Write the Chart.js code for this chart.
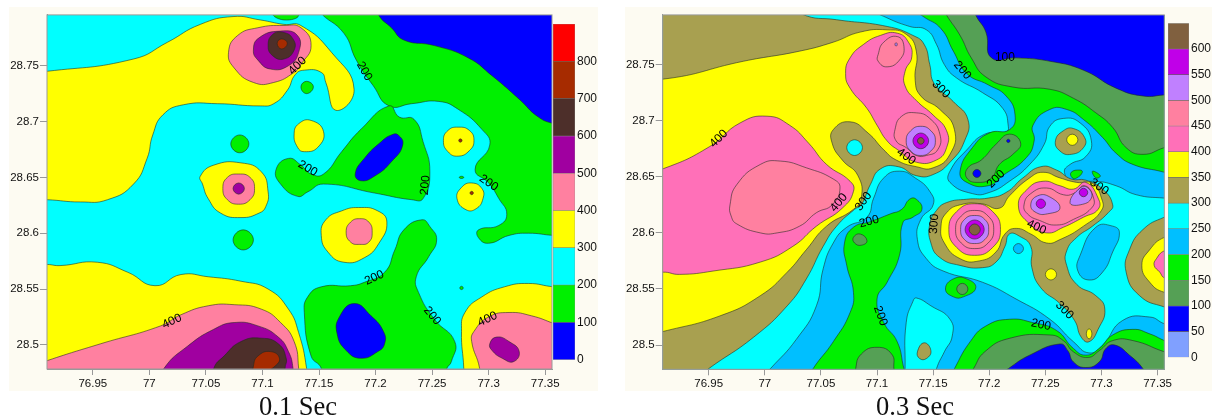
<!DOCTYPE html>
<html>
<head>
<meta charset="utf-8">
<script src="https://cdn.jsdelivr.net/npm/chart.js@4"></script>
<style>
  body { margin: 0; background: #fff; width: 1216px; height: 419px; overflow: hidden; position: relative; }
  .panel { position: absolute; top: 7px; height: 384px; background: #fdfbf2; }
  canvas { position: absolute; top: 7px; filter: blur(0.45px); }
  .cap { position: absolute; top: 391px; font: 26.5px/30px "Liberation Serif", serif; color: #111; }
</style>
</head>
<body>
<div class="panel" style="left:9px;width:589px"></div>
<div class="panel" style="left:625px;width:587px"></div>
<canvas id="map1" width="589" height="384" style="left:9px"></canvas>
<canvas id="bar1" width="45" height="384" style="left:553px"></canvas>
<canvas id="map2" width="587" height="384" style="left:625px"></canvas>
<canvas id="bar2" width="44" height="384" style="left:1168px"></canvas>
<div class="cap" style="left:259px">0.1 Sec</div>
<div class="cap" style="left:876px">0.3 Sec</div>
<script>
// axis ticks
const lonTicks = [76.95, 77, 77.05, 77.1, 77.15, 77.2, 77.25, 77.3, 77.35];
const latTicks = [28.5, 28.55, 28.6, 28.65, 28.7, 28.75];

// colour bars
const barLevels1 = [0, 100, 200, 300, 400, 500, 600, 700, 800, 900];
const barColors1 = ['#0000ff', '#00f000', '#00ffff', '#ffff00', '#ff80a0', '#a000a0', '#4d2f2a', '#a62b00', '#ff0000'];
const barLevels2 = [0, 50, 100, 150, 200, 250, 300, 350, 400, 450, 500, 550, 600, 650];
const barColors2 = ['#80a0ff', '#0000ff', '#55a055', '#00f000', '#00bfff', '#00ffff', '#a8a050', '#ffff00', '#ff70b8', '#ff80a0', '#c080ff', '#c000e8', '#80603f'];

// named shades used by the contour bands
const BLUE = '#0000ff', GREEN = '#00f000', CYAN = '#00ffff', YELLOW = '#ffff00', PINK = '#ff80a0',
  PURPLE = '#a000a0', BROWN = '#4d2f2a', RUST = '#a62b00', DARKG = '#55a055',
  SKY = '#00bfff', OLIVE = '#a8a050', HOT = '#ff70b8', VIOLET = '#c080ff', MAGENTA = '#c000e8', UMBER = '#80603f';

const wholeMap = [[76,28],[78,28],[78,29.5],[76,29.5]];

// ---- 0.1 Sec contour bands [lon, lat] ----
const a_yellowN = [[76.894,28.745],[76.9095,28.745],[76.986,28.756],[77.016,28.771],[77.045,28.787],[77.074,28.794],[77.098,28.791],[77.119,28.787],[77.134,28.786],[77.161,28.762],[77.181,28.729],[77.165,28.710],[77.156,28.735],[77.152,28.744],[77.137,28.746],[77.129,28.742],[77.122,28.728],[77.110,28.716],[77.098,28.714],[77.060,28.716],[77.030,28.715],[77.012,28.706],[77.003,28.688],[76.998,28.667],[76.986,28.644],[76.963,28.630],[76.939,28.628],[76.9095,28.630],[76.894,28.630]];
const a_pinkN = [[77.070,28.762],[77.078,28.777],[77.096,28.784],[77.119,28.786],[77.134,28.784],[77.143,28.768],[77.134,28.751],[77.128,28.744],[77.110,28.735],[77.092,28.735],[77.075,28.748]];
const a_purpleN = [[77.092,28.764],[77.097,28.775],[77.116,28.781],[77.131,28.777],[77.132,28.762],[77.123,28.750],[77.107,28.747],[77.096,28.755]];
const a_brownN = [[77.105,28.768],[77.109,28.778],[77.118,28.780],[77.127,28.774],[77.128,28.764],[77.119,28.756],[77.109,28.759]];
const a_rustN = [[77.113,28.770],[77.117,28.774],[77.122,28.770],[77.117,28.765]];
const a_greenTop = [[77.109,28.797],[77.119,28.791],[77.132,28.795],[77.121,28.802]];
const a_greenDot1 = [[77.134,28.731],[77.139,28.736],[77.145,28.731],[77.139,28.725]];
const a_greenDot2 = [[77.072,28.680],[77.080,28.688],[77.088,28.680],[77.080,28.672]];
const a_yellowMid = [[77.128,28.689],[77.132,28.698],[77.143,28.701],[77.154,28.691],[77.149,28.677],[77.137,28.673],[77.131,28.677]];
const a_greenNE = [[77.150,28.799],[77.172,28.779],[77.183,28.755],[77.198,28.732],[77.212,28.714],[77.232,28.716],[77.256,28.718],[77.273,28.711],[77.294,28.693],[77.301,28.679],[77.288,28.657],[77.300,28.645],[77.309,28.631],[77.316,28.617],[77.309,28.607],[77.291,28.603],[77.291,28.596],[77.300,28.591],[77.318,28.598],[77.335,28.600],[77.358,28.598],[77.374,28.598],[77.374,28.806],[77.150,28.806]];
// starts at the far corner: a list sorted by lon makes the library skip the points past the axis
const a_blueNE = [[77.374,28.806],[77.201,28.806],[77.203,28.795],[77.214,28.784],[77.225,28.773],[77.252,28.768],[77.282,28.757],[77.303,28.741],[77.327,28.720],[77.344,28.704],[77.358,28.698],[77.374,28.695]];
const a_greenMid = [[77.212,28.714],[77.187,28.693],[77.170,28.673],[77.154,28.653],[77.143,28.653],[77.134,28.661],[77.123,28.667],[77.112,28.657],[77.116,28.644],[77.131,28.633],[77.140,28.637],[77.154,28.644],[77.199,28.636],[77.232,28.630],[77.242,28.631],[77.248,28.655],[77.242,28.682],[77.234,28.702],[77.221,28.704]];
const a_blueMid = [[77.220,28.688],[77.224,28.679],[77.214,28.664],[77.199,28.651],[77.187,28.647],[77.182,28.653],[77.190,28.667],[77.205,28.682],[77.214,28.688]];
const a_yellowE1 = [[77.260,28.683],[77.264,28.692],[77.273,28.695],[77.283,28.692],[77.287,28.683],[77.283,28.674],[77.273,28.669],[77.264,28.673]];
const a_rustDot1 = [[77.2735,28.683],[77.275,28.6845],[77.2765,28.683],[77.275,28.6815]];
const a_yellowE2 = [[77.272,28.631],[77.276,28.641],[77.285,28.645],[77.294,28.640],[77.295,28.631],[77.289,28.622],[77.280,28.621]];
const a_rustDot2 = [[77.2835,28.636],[77.285,28.6375],[77.2865,28.636],[77.285,28.6345]];
const a_greenDot3 = [[77.274,28.650],[77.276,28.651],[77.278,28.650],[77.276,28.649]];
const a_yellowW = [[77.045,28.651],[77.057,28.661],[77.081,28.663],[77.099,28.655],[77.105,28.637],[77.103,28.624],[77.097,28.618],[77.081,28.614],[77.063,28.618],[77.052,28.631],[77.047,28.644]];
const a_pinkW = [[77.065,28.640],[77.069,28.650],[77.079,28.653],[77.089,28.650],[77.093,28.640],[77.089,28.630],[77.079,28.626],[77.069,28.630]];
const a_purpleW = [[77.074,28.640],[77.079,28.645],[77.084,28.640],[77.079,28.635]];
const a_greenDot4 = [[77.074,28.594],[77.083,28.603],[77.092,28.594],[77.083,28.585]];
const a_yellowS = [[76.895,28.572],[76.910,28.572],[76.921,28.571],[76.954,28.574],[76.981,28.565],[77.005,28.553],[77.028,28.563],[77.052,28.561],[77.081,28.557],[77.105,28.550],[77.123,28.532],[77.132,28.511],[77.139,28.479],[77.139,28.465],[76.895,28.465]];
const a_pinkS = [[76.910,28.486],[76.957,28.501],[77.010,28.517],[77.028,28.527],[77.052,28.535],[77.075,28.536],[77.099,28.532],[77.116,28.520],[77.128,28.503],[77.132,28.479],[77.132,28.465],[76.895,28.465],[76.895,28.480]];
const a_purpleS = [[77.010,28.465],[77.013,28.479],[77.034,28.499],[77.057,28.514],[77.075,28.520],[77.096,28.517],[77.114,28.507],[77.123,28.494],[77.127,28.479],[77.127,28.465]];
const a_brownS = [[77.057,28.465],[77.057,28.479],[77.066,28.490],[77.081,28.503],[77.099,28.506],[77.114,28.501],[77.121,28.488],[77.120,28.479],[77.120,28.465]];
const a_rustS = [[77.092,28.481],[77.096,28.490],[77.107,28.494],[77.115,28.488],[77.110,28.480],[77.101,28.476],[77.093,28.475]];
const a_yellowC = [[77.152,28.598],[77.156,28.612],[77.170,28.620],[77.185,28.623],[77.202,28.620],[77.210,28.610],[77.203,28.591],[77.190,28.578],[77.172,28.574],[77.158,28.583]];
const a_pinkC = [[77.174,28.601],[77.178,28.610],[77.186,28.613],[77.194,28.610],[77.197,28.601],[77.194,28.592],[77.186,28.590],[77.178,28.592]];
const a_greenS = [[77.137,28.529],[77.140,28.543],[77.152,28.552],[77.178,28.553],[77.190,28.556],[77.208,28.565],[77.217,28.585],[77.225,28.603],[77.241,28.612],[77.248,28.606],[77.254,28.594],[77.247,28.579],[77.236,28.561],[77.238,28.547],[77.252,28.523],[77.270,28.503],[77.267,28.485],[77.263,28.479],[77.258,28.465],[77.152,28.465],[77.152,28.479],[77.143,28.490]];
const a_blueS = [[77.181,28.537],[77.196,28.526],[77.207,28.512],[77.208,28.501],[77.202,28.494],[77.187,28.488],[77.174,28.495],[77.166,28.510],[77.168,28.525]];
const a_greenDot5 = [[77.2745,28.551],[77.276,28.5525],[77.2775,28.551],[77.276,28.5495]];
const a_yellowSE = [[77.278,28.465],[77.278,28.479],[77.276,28.512],[77.279,28.529],[77.294,28.543],[77.314,28.552],[77.335,28.555],[77.358,28.552],[77.374,28.552],[77.374,28.465]];
const a_pinkSE = [[77.374,28.465],[77.292,28.465],[77.292,28.479],[77.285,28.503],[77.287,28.512],[77.300,28.525],[77.318,28.529],[77.338,28.526],[77.358,28.519],[77.374,28.513]];
const a_purpleSE = [[77.301,28.501],[77.307,28.507],[77.318,28.503],[77.327,28.494],[77.322,28.485],[77.312,28.488],[77.303,28.495]];

const bands1 = [
  [wholeMap, CYAN], [a_yellowN, YELLOW], [a_pinkN, PINK], [a_purpleN, PURPLE], [a_brownN, BROWN], [a_rustN, RUST],
  [a_greenTop, GREEN], [a_greenDot1, GREEN], [a_greenDot2, GREEN], [a_yellowMid, YELLOW], [a_greenNE, GREEN], [a_blueNE, BLUE],
  [a_greenMid, GREEN], [a_blueMid, BLUE], [a_yellowE1, YELLOW], [a_rustDot1, RUST], [a_yellowE2, YELLOW], [a_rustDot2, RUST],
  [a_greenDot3, GREEN], [a_yellowW, YELLOW], [a_pinkW, PINK], [a_purpleW, PURPLE], [a_greenDot4, GREEN],
  [a_yellowS, YELLOW], [a_pinkS, PINK], [a_purpleS, PURPLE], [a_brownS, BROWN], [a_rustS, RUST],
  [a_yellowC, YELLOW], [a_pinkC, PINK], [a_greenS, GREEN], [a_blueS, BLUE], [a_greenDot5, GREEN],
  [a_yellowSE, YELLOW], [a_pinkSE, PINK], [a_purpleSE, PURPLE]
];

const labelText1 = ['400', '200', '200', '200', '200', '400', '200', '200', '400'];
const labelLon1 = [77.131, 77.190, 77.140, 77.244, 77.300, 77.020, 77.199, 77.250, 77.299];
const labelLat1 = [28.750, 28.745, 28.658, 28.643, 28.645, 28.521, 28.560, 28.526, 28.523];
const labelAngle1 = [-45, 60, 30, -85, 35, -25, -25, 50, -25];

// ---- 0.3 Sec contour bands [lon, lat] ----
const b_oliveNW = [[76.89,28.81],[77.015,28.81],[77.033,28.795],[77.064,28.790],[77.109,28.784],[77.132,28.776],[77.142,28.768],[77.147,28.750],[77.151,28.733],[77.168,28.717],[77.181,28.701],[77.178,28.682],[77.166,28.664],[77.150,28.652],[77.135,28.651],[77.119,28.659],[77.103,28.657],[77.094,28.643],[77.086,28.625],[77.080,28.621],[77.064,28.606],[77.052,28.588],[77.037,28.559],[77.020,28.535],[76.990,28.507],[76.950,28.479],[76.939,28.470],[76.89,28.47]];
const b_yellowNW = [[76.89,28.742],[76.909,28.737],[76.981,28.753],[77.031,28.762],[77.061,28.770],[77.085,28.779],[77.109,28.781],[77.126,28.777],[77.135,28.762],[77.134,28.736],[77.139,28.722],[77.156,28.710],[77.169,28.692],[77.165,28.670],[77.150,28.658],[77.135,28.659],[77.117,28.665],[77.106,28.674],[77.092,28.689],[77.076,28.699],[77.061,28.692],[77.060,28.680],[77.069,28.665],[77.083,28.651],[77.086,28.631],[77.079,28.621],[77.055,28.606],[77.037,28.585],[77.020,28.565],[76.996,28.544],[76.960,28.526],[76.909,28.512],[76.89,28.508]];
const b_hotW = [[76.89,28.654],[76.909,28.657],[76.951,28.677],[76.978,28.698],[77.002,28.704],[77.022,28.696],[77.039,28.680],[77.055,28.661],[77.076,28.646],[77.079,28.637],[77.069,28.622],[77.046,28.606],[77.025,28.588],[76.996,28.574],[76.954,28.566],[76.924,28.563],[76.909,28.565],[76.89,28.562]];
const b_roseW = [[76.969,28.625],[76.975,28.643],[76.996,28.661],[77.014,28.664],[77.037,28.658],[77.061,28.648],[77.067,28.640],[77.060,28.625],[77.046,28.618],[77.031,28.606],[77.011,28.600],[76.996,28.600],[76.975,28.608],[76.970,28.615]];
const b_hotN = [[77.072,28.742],[77.076,28.756],[77.088,28.768],[77.103,28.776],[77.118,28.778],[77.128,28.770],[77.131,28.757],[77.125,28.744],[77.125,28.731],[77.135,28.718],[77.150,28.705],[77.162,28.691],[77.162,28.676],[77.153,28.665],[77.135,28.663],[77.120,28.673],[77.109,28.682],[77.100,28.696],[77.091,28.711],[77.076,28.729]];
const b_roseN = [[77.101,28.759],[77.106,28.770],[77.118,28.775],[77.124,28.766],[77.120,28.754],[77.109,28.748],[77.101,28.753]];
const b_violetDot = [[77.116,28.768],[77.117,28.7695],[77.118,28.768],[77.117,28.7665]];
const b_roseHill1 = [[77.116,28.692],[77.122,28.704],[77.135,28.707],[77.147,28.702],[77.156,28.688],[77.154,28.674],[77.144,28.669],[77.135,28.669],[77.126,28.676],[77.117,28.682]];
const b_violetHill1 = [[77.126,28.682],[77.130,28.691],[77.139,28.695],[77.148,28.691],[77.152,28.682],[77.148,28.673],[77.139,28.669],[77.130,28.673]];
const b_magentaHill1 = [[77.132,28.682],[77.139,28.689],[77.146,28.682],[77.139,28.675]];
const b_umberHill1 = [[77.136,28.682],[77.139,28.685],[77.142,28.682],[77.139,28.679]];
const b_cyanHole = [[77.073,28.676],[77.080,28.683],[77.087,28.676],[77.080,28.669]];
const b_skyNE = [[77.094,28.80],[77.106,28.793],[77.129,28.784],[77.144,28.781],[77.153,28.768],[77.160,28.750],[77.171,28.738],[77.194,28.725],[77.212,28.711],[77.217,28.695],[77.215,28.690],[77.196,28.688],[77.180,28.674],[77.165,28.655],[77.165,28.645],[77.185,28.635],[77.200,28.636],[77.218,28.646],[77.236,28.661],[77.249,28.679],[77.254,28.695],[77.266,28.702],[77.281,28.698],[77.291,28.682],[77.286,28.668],[77.272,28.661],[77.267,28.654],[77.275,28.645],[77.295,28.646],[77.313,28.642],[77.331,28.634],[77.356,28.631],[77.364,28.631],[77.37,28.81]];
const b_greenNE = [[77.132,28.80],[77.141,28.793],[77.157,28.782],[77.168,28.762],[77.180,28.742],[77.199,28.732],[77.215,28.722],[77.223,28.705],[77.218,28.692],[77.200,28.689],[77.185,28.676],[77.174,28.655],[77.180,28.645],[77.199,28.642],[77.212,28.651],[77.233,28.667],[77.240,28.682],[77.239,28.696],[77.254,28.710],[77.269,28.710],[77.284,28.701],[77.301,28.685],[77.313,28.671],[77.328,28.661],[77.356,28.654],[77.367,28.650],[77.37,28.81],[77.132,28.81]];
const b_darkNE = [[77.159,28.80],[77.162,28.794],[77.174,28.776],[77.184,28.756],[77.197,28.739],[77.221,28.730],[77.254,28.728],[77.275,28.720],[77.295,28.707],[77.310,28.694],[77.322,28.676],[77.337,28.670],[77.356,28.676],[77.367,28.679],[77.37,28.81],[77.159,28.81]];
const b_blueNE = [[77.187,28.80],[77.188,28.794],[77.197,28.779],[77.202,28.756],[77.224,28.756],[77.254,28.753],[77.284,28.745],[77.313,28.729],[77.337,28.722],[77.356,28.723],[77.367,28.724],[77.37,28.81],[77.187,28.81]];
const b_peanut = [[77.218,28.688],[77.228,28.680],[77.221,28.670],[77.209,28.661],[77.202,28.649],[77.190,28.645],[77.180,28.649],[77.181,28.658],[77.193,28.665],[77.206,28.679]];
const b_blueDot1 = [[77.1854,28.653],[77.189,28.6566],[77.1926,28.653],[77.189,28.6494]];
const b_blueDot2 = [[77.2155,28.682],[77.217,28.6835],[77.2185,28.682],[77.217,28.6805]];
const b_oliveBlob = [[77.259,28.682],[77.266,28.691],[77.275,28.693],[77.285,28.685],[77.284,28.676],[77.273,28.670],[77.263,28.673]];
const b_yellowBlob = [[77.269,28.683],[77.274,28.688],[77.279,28.683],[77.274,28.678]];
const b_greenSmall1 = [[77.273,28.654],[77.281,28.656],[77.283,28.654],[77.278,28.649],[77.274,28.649]];
const b_greenSmall2 = [[77.292,28.655],[77.299,28.651],[77.295,28.649]];
const b_skyS = [[76.999,28.473],[77.005,28.479],[77.028,28.505],[77.046,28.535],[77.052,28.568],[77.061,28.591],[77.073,28.605],[77.091,28.614],[77.097,28.631],[77.106,28.649],[77.120,28.655],[77.134,28.649],[77.147,28.637],[77.150,28.625],[77.139,28.612],[77.136,28.594],[77.144,28.577],[77.159,28.566],[77.194,28.556],[77.224,28.541],[77.254,28.523],[77.275,28.503],[77.289,28.493],[77.301,28.500],[77.319,28.522],[77.343,28.525],[77.356,28.519],[77.365,28.517],[77.37,28.46],[76.999,28.46]];
const b_greenS = [[77.039,28.470],[77.043,28.479],[77.061,28.503],[77.076,28.529],[77.079,28.547],[77.073,28.571],[77.071,28.591],[77.079,28.605],[77.094,28.610],[77.112,28.617],[77.122,28.621],[77.129,28.630],[77.135,28.630],[77.140,28.621],[77.132,28.614],[77.123,28.609],[77.120,28.580],[77.109,28.556],[77.100,28.541],[77.106,28.520],[77.118,28.503],[77.124,28.479],[77.128,28.465]];
const b_darkSmall = [[77.079,28.596],[77.085,28.599],[77.091,28.593],[77.086,28.589],[77.080,28.591]];
const b_darkBottom = [[77.081,28.479],[77.086,28.492],[77.100,28.498],[77.113,28.492],[77.115,28.479],[77.115,28.465],[77.081,28.465]];
const b_cyanLobe = [[77.125,28.479],[77.126,28.520],[77.132,28.539],[77.135,28.542],[77.148,28.535],[77.165,28.523],[77.167,28.508],[77.160,28.494],[77.153,28.479],[77.150,28.465],[77.125,28.465]];
const b_oliveSmall = [[77.136,28.494],[77.142,28.502],[77.148,28.495],[77.144,28.488],[77.138,28.488]];
const b_greenBlob = [[77.161,28.550],[77.168,28.559],[77.180,28.559],[77.188,28.551],[77.177,28.543],[77.168,28.543]];
const b_darkBlob = [[77.171,28.550],[77.176,28.555],[77.181,28.550],[77.176,28.545]];
const b_greenSE = [[77.165,28.470],[77.169,28.479],[77.183,28.503],[77.197,28.517],[77.218,28.523],[77.239,28.520],[77.260,28.513],[77.275,28.497],[77.286,28.491],[77.298,28.497],[77.310,28.509],[77.328,28.514],[77.343,28.510],[77.356,28.504],[77.37,28.498],[77.37,28.46],[77.165,28.46]];
const b_darkSE = [[77.183,28.473],[77.186,28.479],[77.196,28.494],[77.218,28.506],[77.254,28.509],[77.266,28.504],[77.275,28.494],[77.288,28.489],[77.298,28.495],[77.310,28.504],[77.328,28.504],[77.356,28.494],[77.37,28.49],[77.37,28.46],[77.183,28.46]];
const b_blueSE = [[77.211,28.474],[77.217,28.479],[77.236,28.491],[77.263,28.501],[77.270,28.495],[77.275,28.485],[77.286,28.480],[77.298,28.485],[77.304,28.497],[77.312,28.500],[77.325,28.491],[77.337,28.479],[77.345,28.465],[77.211,28.465]];
const b_oliveC = [[77.246,28.659],[77.260,28.656],[77.273,28.648],[77.286,28.647],[77.301,28.639],[77.310,28.625],[77.306,28.618],[77.292,28.606],[77.278,28.596],[77.269,28.584],[77.269,28.571],[77.278,28.554],[77.295,28.544],[77.303,28.532],[77.297,28.514],[77.289,28.503],[77.282,28.507],[77.276,28.522],[77.263,28.537],[77.246,28.551],[77.238,28.569],[77.237,28.588],[77.227,28.597],[77.218,28.599],[77.214,28.588],[77.206,28.574],[77.194,28.569],[77.174,28.571],[77.156,28.578],[77.148,28.591],[77.147,28.608],[77.153,28.620],[77.162,28.627],[77.180,28.630],[77.199,28.631],[77.215,28.636],[77.230,28.649]];
const b_yellowC = [[77.174,28.625],[77.193,28.626],[77.209,28.622],[77.218,28.633],[77.236,28.649],[77.248,28.654],[77.263,28.649],[77.278,28.645],[77.292,28.644],[77.300,28.631],[77.300,28.620],[77.284,28.606],[77.263,28.594],[77.251,28.591],[77.237,28.599],[77.224,28.604],[77.214,28.599],[77.206,28.583],[77.191,28.575],[77.174,28.577],[77.160,28.591],[77.157,28.606],[77.162,28.618]];
const b_hotHill = [[77.164,28.603],[77.171,28.619],[77.187,28.626],[77.203,28.619],[77.210,28.603],[77.203,28.587],[77.187,28.580],[77.171,28.587]];
const b_roseHill = [[77.170,28.603],[77.175,28.615],[77.187,28.620],[77.199,28.615],[77.204,28.603],[77.199,28.591],[77.187,28.586],[77.175,28.591]];
const b_violetHill = [[77.1745,28.603],[77.178,28.612],[77.187,28.6155],[77.196,28.612],[77.1995,28.603],[77.196,28.594],[77.187,28.5905],[77.178,28.594]];
const b_magentaHill = [[77.1785,28.603],[77.187,28.6115],[77.1955,28.603],[77.187,28.5945]];
const b_umberHill = [[77.182,28.603],[77.187,28.608],[77.192,28.603],[77.187,28.598]];
const b_hotE = [[77.226,28.624],[77.234,28.639],[77.248,28.646],[77.263,28.642],[77.275,28.639],[77.286,28.645],[77.297,28.631],[77.297,28.621],[77.284,28.614],[77.266,28.605],[77.251,28.600],[77.236,28.608]];
const b_roseE = [[77.231,28.625],[77.237,28.635],[77.251,28.640],[77.266,28.634],[77.275,28.635],[77.285,28.642],[77.293,28.631],[77.291,28.622],[77.275,28.612],[77.260,28.607],[77.245,28.611],[77.234,28.617]];
const b_violetE1 = [[77.237,28.625],[77.243,28.633],[77.254,28.632],[77.263,28.622],[77.252,28.617],[77.242,28.618]];
const b_magentaE1 = [[77.2418,28.626],[77.246,28.6302],[77.2502,28.626],[77.246,28.6218]];
const b_violetE2 = [[77.272,28.627],[77.281,28.640],[77.288,28.640],[77.291,28.631],[77.281,28.625]];
const b_magentaE2 = [[77.2802,28.636],[77.284,28.6398],[77.2878,28.636],[77.284,28.6322]];
const b_skyBlob = [[77.295,28.605],[77.310,28.606],[77.316,28.600],[77.310,28.583],[77.301,28.565],[77.289,28.558],[77.279,28.566],[77.281,28.580]];
const b_skySmall = [[77.2215,28.586],[77.226,28.5905],[77.2305,28.586],[77.226,28.5815]];
const b_yellowSmall1 = [[77.250,28.563],[77.255,28.568],[77.260,28.563],[77.255,28.558]];
const b_yellowSmall2 = [[77.2865,28.510],[77.289,28.5145],[77.2915,28.510],[77.289,28.5055]];
const b_oliveEdge = [[77.356,28.614],[77.337,28.603],[77.325,28.585],[77.322,28.565],[77.334,28.544],[77.356,28.534],[77.375,28.530],[77.375,28.620]];
const b_yellowEdge = [[77.356,28.596],[77.343,28.585],[77.336,28.571],[77.343,28.556],[77.356,28.547],[77.375,28.545],[77.375,28.600]];
const b_hotEdge = [[77.356,28.584],[77.349,28.577],[77.347,28.571],[77.352,28.565],[77.356,28.560],[77.375,28.555],[77.375,28.590]];

const bands2 = [
  [wholeMap, CYAN], [b_oliveNW, OLIVE], [b_yellowNW, YELLOW], [b_hotW, HOT], [b_roseW, PINK], [b_hotN, HOT], [b_roseN, PINK], [b_violetDot, VIOLET],
  [b_roseHill1, PINK], [b_violetHill1, VIOLET], [b_magentaHill1, MAGENTA], [b_umberHill1, UMBER], [b_cyanHole, CYAN],
  [b_skyNE, SKY], [b_greenNE, GREEN], [b_darkNE, DARKG], [b_blueNE, BLUE], [b_peanut, DARKG], [b_blueDot1, BLUE], [b_blueDot2, BLUE],
  [b_oliveBlob, OLIVE], [b_yellowBlob, YELLOW], [b_greenSmall1, GREEN], [b_greenSmall2, GREEN],
  [b_skyS, SKY], [b_greenS, GREEN], [b_darkSmall, DARKG], [b_darkBottom, DARKG], [b_cyanLobe, CYAN], [b_oliveSmall, OLIVE],
  [b_greenBlob, GREEN], [b_darkBlob, DARKG], [b_greenSE, GREEN], [b_darkSE, DARKG], [b_blueSE, BLUE],
  [b_oliveC, OLIVE], [b_yellowC, YELLOW], [b_hotHill, HOT], [b_roseHill, PINK], [b_violetHill, VIOLET], [b_magentaHill, MAGENTA], [b_umberHill, UMBER],
  [b_hotE, HOT], [b_roseE, PINK], [b_violetE1, VIOLET], [b_magentaE1, MAGENTA], [b_violetE2, VIOLET], [b_magentaE2, MAGENTA],
  [b_skyBlob, SKY], [b_skySmall, SKY], [b_yellowSmall1, YELLOW], [b_yellowSmall2, YELLOW],
  [b_oliveEdge, OLIVE], [b_yellowEdge, YELLOW], [b_hotEdge, HOT]
];

const labelText2 = ['400', '400', '400', '300', '200', '100', '300', '200', '300', '200', '200', '300', '400', '300', '200'];
const labelLon2 = [76.959, 77.126, 77.066, 77.088, 77.176, 77.214, 77.157, 77.206, 77.298, 77.093, 77.103, 77.151, 77.242, 77.267, 77.246];
const labelLat2 = [28.684, 28.668, 28.627, 28.628, 28.745, 28.756, 28.728, 28.648, 28.641, 28.610, 28.526, 28.608, 28.605, 28.531, 28.518];
const labelAngle2 = [-45, 35, -50, -55, 50, 0, 45, -45, 35, -15, 70, -85, 25, 45, 12];

// every band is a closed curve, so the spline has to wrap round the first point
const closeBands = {
  id: 'closeBands',
  afterDatasetsUpdate(chart) {
    chart.getSortedVisibleDatasetMetas().forEach(m => {
      m.dataset._loop = true;
      m.dataset._fullLoop = true;
      m.dataset._pointsUpdated = false;
      m.dataset._segments = undefined;
    });
  }
};

// draws the rotated contour labels and the frame
const contourLabels = {
  id: 'contourLabels',
  afterDatasetsDraw(chart, args, opts) {
    const { ctx, chartArea: a, scales } = chart;
    ctx.save();
    ctx.strokeStyle = '#999';
    ctx.lineWidth = 1;
    ctx.strokeRect(a.left, a.top, a.right - a.left, a.bottom - a.top);
    ctx.font = '12px "Liberation Sans", Arial, sans-serif';
    ctx.fillStyle = '#000';
    ctx.textAlign = 'center';
    ctx.textBaseline = 'middle';
    opts.text.forEach((t, i) => {
      ctx.save();
      ctx.translate(scales.x.getPixelForValue(opts.lon[i]), scales.y.getPixelForValue(opts.lat[i]));
      ctx.rotate(opts.angle[i] * Math.PI / 180);
      ctx.fillText(t, 0, 0);
      ctx.restore();
    });
    ctx.restore();
  }
};

function drawMap(id, bands, range, fit, labels) {
  const n = bands.length;
  new Chart(document.getElementById(id), {
    type: 'scatter',
    plugins: [closeBands, contourLabels],
    data: {
      datasets: bands.map((b, i) => ({
        data: b[0].map(p => ({ x: p[0], y: p[1] })),
        showLine: true,
        fill: 'shape',
        backgroundColor: b[1],
        borderColor: 'rgba(30,40,30,.7)',
        borderWidth: 0.8,
        tension: 0.5,
        pointRadius: 0,
        order: n - i
      }))
    },
    options: {
      responsive: false,
      animation: false,
      events: [],
      layout: { padding: fit.padding },
      elements: { line: { capBezierPoints: false } },
      plugins: { legend: { display: false }, tooltip: { enabled: false }, contourLabels: labels },
      scales: {
        x: {
          type: 'linear', min: range[0], max: range[1],
          afterBuildTicks: s => { s.ticks = lonTicks.map(v => ({ value: v })); },
          afterFit: s => { s.height = fit.bottom; },
          grid: { drawOnChartArea: false, tickLength: 6, tickColor: '#999' },
          border: { color: '#999' },
          ticks: { color: '#111', font: { family: 'Liberation Sans', size: 11.5 }, padding: 2, maxRotation: 0, autoSkip: false, callback: v => String(v) }
        },
        y: {
          type: 'linear', min: range[2], max: range[3],
          afterBuildTicks: s => { s.ticks = latTicks.map(v => ({ value: v })); },
          afterFit: s => { s.width = fit.left; },
          grid: { drawOnChartArea: false, tickLength: 7, tickColor: '#999' },
          border: { color: '#999' },
          ticks: { color: '#111', font: { family: 'Liberation Sans', size: 11.5 }, padding: 1, autoSkip: false, callback: v => String(v) }
        }
      }
    }
  });
}

function drawBar(id, levels, colors, padding) {
  new Chart(document.getElementById(id), {
    type: 'bar',
    data: {
      labels: [''],
      datasets: colors.map((c, i) => ({
        data: [[levels[i], levels[i + 1]]],
        backgroundColor: c,
        borderColor: 'rgba(60,60,60,.6)',
        borderWidth: 0.6,
        borderSkipped: false,
        grouped: false,
        barPercentage: 1,
        categoryPercentage: 1
      }))
    },
    options: {
      responsive: false,
      animation: false,
      events: [],
      layout: { padding: padding },
      plugins: { legend: { display: false }, tooltip: { enabled: false } },
      scales: {
        x: { display: false },
        y: {
          position: 'right', min: levels[0], max: levels[levels.length - 1],
          afterBuildTicks: s => { s.ticks = levels.slice(0, -1).map(v => ({ value: v })); },
          afterFit: s => { s.width = 23; },
          grid: { display: false, drawTicks: false },
          border: { display: false },
          ticks: { color: '#111', font: { family: 'Liberation Sans', size: 12 }, padding: 2, autoSkip: false, callback: v => String(v) }
        }
      }
    }
  });
}

drawMap('map1', bands1, [76.9095, 77.356, 28.4784, 28.7955],
  { left: 38, bottom: 22, padding: { top: 5, right: 46 } },
  { text: labelText1, lon: labelLon1, lat: labelLat1, angle: labelAngle1 });
drawMap('map2', bands2, [76.909, 77.356, 28.4784, 28.7943],
  { left: 37.7, bottom: 21.7, padding: { top: 6.3, right: 47.7 } },
  { text: labelText2, lon: labelLon2, lat: labelLat2, angle: labelAngle2 });
drawBar('bar1', barLevels1, barColors1, { top: 17, bottom: 31.3 });
drawBar('bar2', barLevels2, barColors2, { top: 16.3, bottom: 33.7 });
</script>
</body>
</html>
